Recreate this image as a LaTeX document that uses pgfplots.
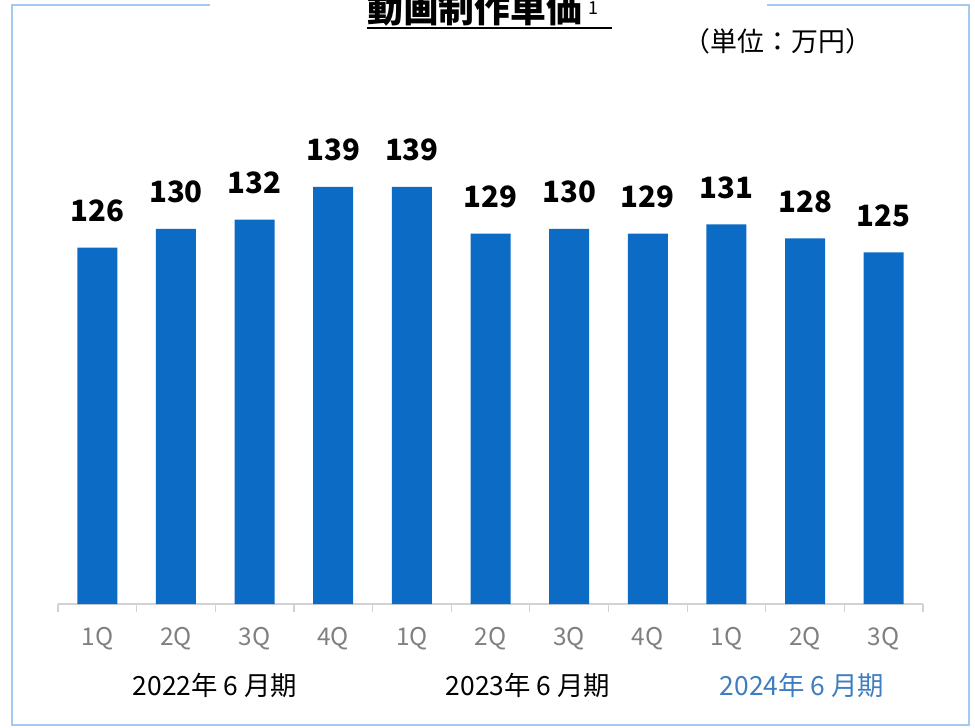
\documentclass[border=0pt]{standalone}
\usepackage{fontspec}
\usepackage{pgfplots}
\pgfplotsset{compat=1.18}
\setmainfont{Noto Sans CJK JP}
\definecolor{barblue}{RGB}{12,107,196}
\definecolor{frameblue}{RGB}{165,202,240}
\definecolor{yearblue}{RGB}{62,126,192}
\definecolor{tickgray}{RGB}{128,128,128}
\definecolor{axisgray}{RGB}{210,210,210}
\begin{document}
\begin{tikzpicture}[x=1bp,y=1bp]
\path[use as bounding box] (0,0) rectangle (975,-728);
\draw[frameblue, line width=1.2bp] (210,-5) -- (12,-5) -- (12,-725) -- (969,-725) -- (969,-5) -- (767,-5);
\begin{axis}[
  at={(58bp,-604bp)}, anchor=south west,
  scale only axis, width=865bp, height=586bp,
  xmin=-0.5, xmax=10.5, ymin=50, ymax=175,
  axis x line=bottom, axis y line=none,
  x axis line style={-, draw=axisgray, line width=1.5bp},
  ybar, bar width=40bp,
  clip=false,
  xtick={0,...,10},
  xticklabels={1Q,2Q,3Q,4Q,1Q,2Q,3Q,4Q,1Q,2Q,3Q},
  major tick length=0pt,
  xticklabel style={anchor=base, yshift=-41bp, font=\fontsize{24.5}{26}\selectfont, text=tickgray},
  extra x ticks={-0.5,0.5,...,10.5},
  extra x tick labels={},
  extra x tick style={major tick length=8bp, tick align=outside, tick style={draw=axisgray, line width=1.2bp}},
  /pgf/number format/assume math mode=true,
  nodes near coords,
  every node near coord/.append style={anchor=base, yshift=26bp, font=\fontsize{29.5}{31}\selectfont\bfseries, text=black},
]
\addplot[fill=barblue, draw=none] coordinates {
(0,126) (1,130) (2,132) (3,139) (4,139) (5,129) (6,130) (7,129) (8,131) (9,128) (10,125)
};
\end{axis}
\node[anchor=base, font=\fontsize{26.5}{28}\selectfont] at (215,-695) {2022年 6 月期};
\node[anchor=base, font=\fontsize{26.5}{28}\selectfont] at (528,-695) {2023年 6 月期};
\node[anchor=base, font=\fontsize{26.5}{28}\selectfont, text=yearblue] at (802,-695) {2024年 6 月期};
\node[anchor=base, font=\fontsize{27}{29}\selectfont] at (778,-52) {（単位：万円）};
\node[anchor=base west, inner sep=0, font=\fontsize{36}{38}\selectfont\bfseries] at (367,-22.5) {動画制作単価\,\raisebox{8bp}{\fontsize{18}{20}\selectfont\mdseries 1}};
\draw[line width=2.5bp] (367,-28) -- (612,-28);
\end{tikzpicture}
\end{document}
